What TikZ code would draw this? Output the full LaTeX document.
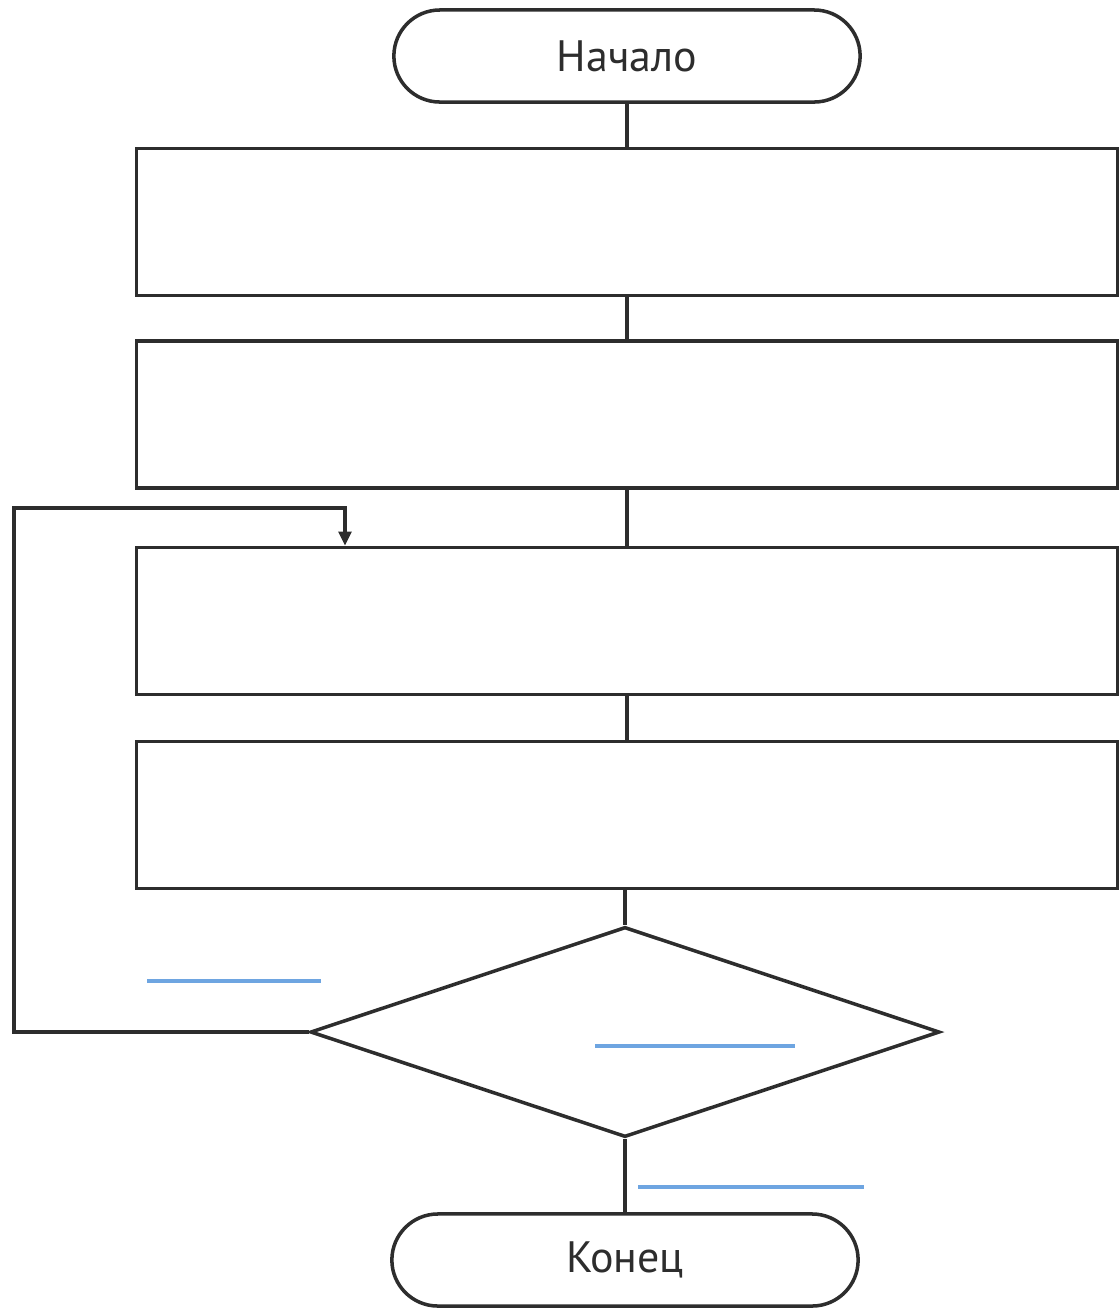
\documentclass[tikz,border=0pt]{standalone}
\usepackage{fontspec}
\setmainfont{PT Sans}
\usetikzlibrary{arrows.meta,positioning,shapes.geometric,shapes.misc}
\definecolor{ink}{RGB}{45,45,45}
\definecolor{fillin}{RGB}{110,165,225}

\begin{document}
\begin{tikzpicture}[x=0.01cm,y=-0.01cm,
    line width=1pt,draw=ink,
    term/.style={rounded rectangle,draw=ink,line width=1pt,minimum width=4.66cm,minimum height=0.92cm,inner sep=0pt,font=\fontsize{12.5}{15}\selectfont,text=ink},
    stepbox/.style={rectangle,draw=ink,line width=1pt,minimum width=9.8cm,minimum height=1.47cm,inner sep=0pt},
    choice/.style={diamond,draw=ink,line width=1pt,minimum width=6.29cm,minimum height=2.1cm,inner sep=0pt},
    fillline/.style={draw=fillin,line width=1.2pt}]
  \useasboundingbox (0,0) rectangle (1119,1308);
  \node[term] (start) at (627,56) {Начало};
  \foreach \y [count=\i] in {222,414.5,621,815}{
    \node[stepbox] (r\i) at (627,\y) {};
  }
  \node[choice] (dec) at (625,1032) {};
  \node[term] (stop) at (625,1260) {Конец};
  % straight links
  \draw[ink] (start.south) -- (r1.north);
  \foreach \i [evaluate=\i as \j using int(\i+1)] in {1,2,3}{
    \draw[ink] (r\i.south) -- (r\j.north);
  }
  \draw[ink] (dec.north |- r4.south) -- (dec.north);
  \draw[ink] (dec.south) -- (stop.north);
  % loop back
  \coordinate (back) at (14,508);
  \coordinate (entry) at (345,508);
  \draw[ink,-{Triangle[length=4pt,width=3.6pt]}] (dec.west) -| (back) -- (entry) -- (r3.north -| entry);
  % blanks to fill in
  \draw[fillline] (147,981) -- (321,981);
  \draw[fillline] (595,1046) -- (795,1046);
  \draw[fillline] (638,1187) -- (864,1187);
\end{tikzpicture}
\end{document}
